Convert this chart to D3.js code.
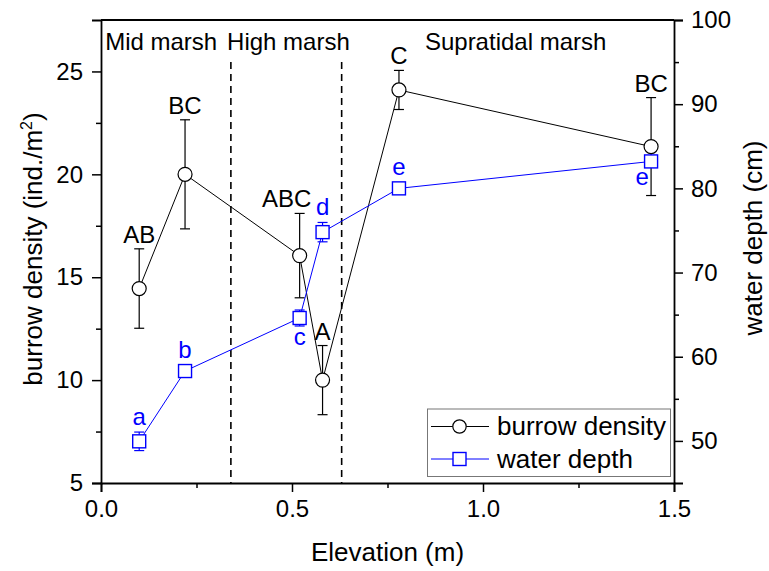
<!DOCTYPE html>
<html><head><meta charset="utf-8">
<script src="https://cdn.jsdelivr.net/npm/d3@7"></script>
<style>
body{margin:0;background:#fff;}
text{font-family:"Liberation Sans",Arial,sans-serif;}
</style></head>
<body><svg id="c" width="769" height="571"></svg>
<script>
const elevation = [0.10, 0.22, 0.52, 0.58, 0.78, 1.44];
const burrowDensity = [14.45, 20.0, 16.05, 10.0, 24.1, 21.35];
const burrowErr = [1.93, 2.65, 2.05, 1.68, 0.95, 2.38];
const burrowLetters = ["AB", "BC", "ABC", "A", "C", "BC"];
const waterDepth = [49.95, 58.3, 64.6, 74.8, 80.0, 83.2];
const waterErr = [1.1, 0.3, 0.95, 1.15, 0.5, 0.5];
const waterLetters = ["a", "b", "c", "d", "e", "e"];
const waterLetterSide = ["above", "above", "below", "above", "above", "below"];
const zoneBounds = [0.34, 0.63];
const zoneNames = ["Mid marsh", "High marsh", "Supratidal marsh"];
const zoneLabelX = [0.011, 0.33, 0.848];
const xTicks = [0.0, 0.5, 1.0, 1.5];
const yLeftTicks = [5, 10, 15, 20, 25];
const yRightTicks = [50, 60, 70, 80, 90, 100];

const svg = d3.select("#c");
const L = 101, R = 674, T = 20, B = 483;
const x = d3.scaleLinear().domain([0, 1.5]).range([L, R]);
const yL = d3.scaleLinear().domain([5, 27.5]).range([B, T]);
const yR = d3.scaleLinear().domain([45, 100]).range([B, T]);
const blue = "#0000ff";
const fs = 24;

// dashed zone lines
svg.selectAll(".zone").data(zoneBounds).join("line")
  .attr("x1", d => x(d)).attr("x2", d => x(d))
  .attr("y1", 62).attr("y2", B)
  .attr("stroke", "#000").attr("stroke-width", 1.6).attr("stroke-dasharray", "7,5");

// zone labels
svg.selectAll(".zl").data(zoneNames).join("text")
  .attr("x", (d, i) => x(zoneLabelX[i])).attr("y", 50)
  .attr("font-size", fs).text(d => d);

// axes
function styleAxis(g) {
  g.selectAll("path").attr("stroke-width", 1.8);
  g.selectAll("line").attr("stroke-width", 1.5);
  g.selectAll("text").attr("font-size", fs).attr("font-family", "Liberation Sans, Arial, sans-serif");
}
const gx = svg.append("g").attr("transform", `translate(0,${B})`)
  .call(d3.axisBottom(x).tickValues(xTicks).tickFormat(d3.format(".1f")).tickSizeOuter(0).tickSize(9).tickPadding(8));
styleAxis(gx);
const gxm = svg.append("g").attr("transform", `translate(0,${B})`)
  .call(d3.axisBottom(x).tickValues([0.25, 0.75, 1.25]).tickFormat("").tickSizeOuter(0).tickSize(5));
gxm.select("path").remove(); styleAxis(gxm);

const gl = svg.append("g").attr("transform", `translate(${L},0)`)
  .call(d3.axisLeft(yL).tickValues(yLeftTicks).tickSizeOuter(0).tickSize(9).tickPadding(9));
styleAxis(gl);
const glm = svg.append("g").attr("transform", `translate(${L},0)`)
  .call(d3.axisLeft(yL).tickValues([7.5, 12.5, 17.5, 22.5]).tickFormat("").tickSizeOuter(0).tickSize(5));
glm.select("path").remove(); styleAxis(glm);

const gr = svg.append("g").attr("transform", `translate(${R},0)`)
  .call(d3.axisRight(yR).tickValues(yRightTicks).tickSizeOuter(0).tickSize(9).tickPadding(8));
styleAxis(gr);
const grm = svg.append("g").attr("transform", `translate(${R},0)`)
  .call(d3.axisRight(yR).tickValues([55, 65, 75, 85, 95]).tickFormat("").tickSizeOuter(0).tickSize(5));
grm.select("path").remove(); styleAxis(grm);

// top frame
svg.append("line").attr("x1", L).attr("x2", R).attr("y1", T).attr("y2", T)
  .attr("stroke", "#000").attr("stroke-width", 1.8);

// axis titles
svg.append("text").attr("x", (L + R) / 2).attr("y", 561).attr("text-anchor", "middle")
  .attr("font-size", 26).text("Elevation (m)");
const lt = svg.append("text").attr("transform", `translate(42,249) rotate(-90)`)
  .attr("text-anchor", "middle").attr("font-size", 26);
lt.append("tspan").text("burrow density (ind./m");
lt.append("tspan").attr("font-size", 16).attr("dy", -10).text("2");
lt.append("tspan").attr("dy", 10).text(")");
svg.append("text").attr("transform", `translate(762,238) rotate(-90)`)
  .attr("text-anchor", "middle").attr("font-size", 26).text("water depth (cm)");

const idx = d3.range(elevation.length);

// burrow series
svg.append("path").datum(idx)
  .attr("d", d3.line().x(i => x(elevation[i])).y(i => yL(burrowDensity[i])))
  .attr("fill", "none").attr("stroke", "#000").attr("stroke-width", 1);
function errBars(vals, errs, scale, color) {
  const g = svg.append("g").attr("stroke", color).attr("stroke-width", 1.2);
  idx.forEach(i => {
    const cx = x(elevation[i]);
    const t = scale(vals[i] + errs[i]), b = scale(vals[i] - errs[i]);
    g.append("line").attr("x1", cx).attr("x2", cx).attr("y1", t).attr("y2", b);
    g.append("line").attr("x1", cx - 5).attr("x2", cx + 5).attr("y1", t).attr("y2", t);
    g.append("line").attr("x1", cx - 5).attr("x2", cx + 5).attr("y1", b).attr("y2", b);
  });
}
errBars(burrowDensity, burrowErr, yL, "#000");

// water series
svg.append("path").datum(idx)
  .attr("d", d3.line().x(i => x(elevation[i])).y(i => yR(waterDepth[i])))
  .attr("fill", "none").attr("stroke", blue).attr("stroke-width", 1);
errBars(waterDepth, waterErr, yR, blue);

svg.selectAll(".circ").data(idx).join("circle")
  .attr("cx", i => x(elevation[i])).attr("cy", i => yL(burrowDensity[i])).attr("r", 7)
  .attr("fill", "#fff").attr("stroke", "#000").attr("stroke-width", 1.2);
svg.selectAll(".sq").data(idx).join("rect")
  .attr("x", i => x(elevation[i]) - 6.5).attr("y", i => yR(waterDepth[i]) - 6.5)
  .attr("width", 13).attr("height", 13)
  .attr("fill", "#fff").attr("stroke", blue).attr("stroke-width", 1.4);

// letters (the "ABC" label sits a little left of its point, as in the figure)
svg.selectAll(".bl").data(idx).join("text")
  .attr("x", i => x(elevation[i]) - (burrowLetters[i] === "ABC" ? 13 : 0))
  .attr("y", i => yL(burrowDensity[i] + burrowErr[i]) - 6)
  .attr("text-anchor", "middle").attr("font-size", fs).text(i => burrowLetters[i]);
svg.selectAll(".wl").data(idx).join("text")
  .attr("x", i => x(elevation[i]) - (i === elevation.length - 1 ? 9 : 0))
  .attr("y", i => {
    const top = Math.min(yR(waterDepth[i] + waterErr[i]), yR(waterDepth[i]) - 6.5);
    const bot = Math.max(yR(waterDepth[i] - waterErr[i]), yR(waterDepth[i]) + 6.5);
    return waterLetterSide[i] === "above" ? top - 7 : bot + (i === elevation.length - 1 ? 17 : 19);
  })
  .attr("text-anchor", "middle").attr("font-size", fs).attr("fill", blue).text(i => waterLetters[i]);

// legend
const lg = svg.append("g");
lg.append("rect").attr("x", 427.5).attr("y", 409).attr("width", 243).attr("height", 67.5)
  .attr("fill", "#fff").attr("stroke", "#777").attr("stroke-width", 1);
const legItems = [{name: "burrow density", color: "#000", shape: "circle"}, {name: "water depth", color: blue, shape: "square"}];
legItems.forEach((d, i) => {
  const cy = 426.5 + i * 32.5;
  lg.append("line").attr("x1", 431).attr("x2", 489).attr("y1", cy).attr("y2", cy).attr("stroke", d.color).attr("stroke-width", 1);
  if (d.shape === "circle") lg.append("circle").attr("cx", 459.5).attr("cy", cy).attr("r", 6.7).attr("fill", "#fff").attr("stroke", d.color).attr("stroke-width", 1.2);
  else lg.append("rect").attr("x", 453).attr("y", cy - 6.5).attr("width", 13).attr("height", 13).attr("fill", "#fff").attr("stroke", d.color).attr("stroke-width", 1.4);
  lg.append("text").attr("x", 497).attr("y", cy + 8.5).attr("font-size", 26).text(d.name);
});
</script></body></html>
